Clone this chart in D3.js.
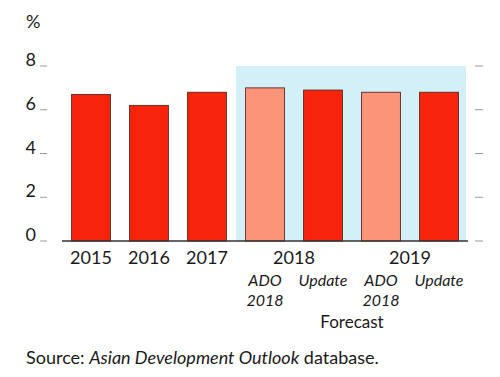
<!DOCTYPE html>
<html>
<head>
<meta charset="utf-8">
<script src="https://cdn.jsdelivr.net/npm/d3@7"></script>
<style>
  body { margin: 0; background: #fff; }
  text { font-family: Lato, "Open Sans", sans-serif; fill: #1a1a1a; }
</style>
</head>
<body>
<div id="chart"></div>
<script>
// Data
const categories = ['2015', '2016', '2017', '2018a', '2018b', '2019a', '2019b'];
const values = [6.7, 6.2, 6.8, 7.0, 6.9, 6.8, 6.8];
const kinds = ['actual', 'actual', 'actual', 'ado', 'update', 'ado', 'update'];
const yearLabels = [['2015', ['2015']], ['2016', ['2016']], ['2017', ['2017']],
  ['2018', ['2018a', '2018b']], ['2019', ['2019a', '2019b']]];
const subLabels = [['2018a', ['ADO', '2018']], ['2018b', ['Update']],
  ['2019a', ['ADO', '2018']], ['2019b', ['Update']]];
const yTicks = [0, 2, 4, 6, 8];

// Dimensions
const W = 500, H = 377;
const margin = { left: 62, right: 32, top: 66, bottom: 136 };
const width = W - margin.left - margin.right;
const height = H - margin.top - margin.bottom;

// Scales
const x = d3.scaleBand()
  .domain(categories)
  .range([0, width])
  .paddingInner(0.33)
  .paddingOuter(0.165);
const y = d3.scaleLinear()
  .domain([0, 8])
  .range([height, 0]);
const color = { actual: '#f8230b', ado: '#fc9479', update: '#f8230b' };

// SVG
const svg = d3.select('#chart')
  .append('svg')
  .attr('width', W)
  .attr('height', H);
const g = svg.append('g')
  .attr('transform', `translate(${margin.left},${margin.top})`);

// Forecast shading
const shadeX = x('2018a') - x.step() * x.paddingInner() / 2;
g.append('rect')
  .attr('x', shadeX)
  .attr('y', y(8))
  .attr('width', width - 2 - shadeX)
  .attr('height', y(0) - y(8))
  .attr('fill', '#d3f0f9');

// Bars
g.selectAll('.bar')
  .data(categories)
  .enter()
  .append('rect')
  .attr('class', 'bar')
  .attr('x', d => x(d))
  .attr('y', (d, i) => y(values[i]))
  .attr('width', x.bandwidth())
  .attr('height', (d, i) => y(0) - y(values[i]))
  .attr('fill', (d, i) => color[kinds[i]])
  .attr('stroke', '#5a2a22')
  .attr('stroke-width', 0.9);

// Baseline
g.append('line')
  .attr('x1', 0).attr('x2', width)
  .attr('y1', y(0)).attr('y2', y(0))
  .attr('stroke', '#333')
  .attr('stroke-width', 1.5);

// Left axis: labels and short ticks
const left = g.append('g').attr('transform', 'translate(-26,0)');
left.selectAll('text')
  .data(yTicks)
  .enter()
  .append('text')
  .attr('x', 0)
  .attr('y', d => y(d))
  .attr('text-anchor', 'end')
  .style('font-size', '18px')
  .text(d => d);
left.selectAll('line')
  .data(yTicks)
  .enter()
  .append('line')
  .attr('x1', 4).attr('x2', 11)
  .attr('y1', d => y(d)).attr('y2', d => y(d))
  .attr('stroke', '#999')
  .attr('stroke-width', 1);

// Right ticks
g.selectAll('.rtick')
  .data(yTicks)
  .enter()
  .append('line')
  .attr('class', 'rtick')
  .attr('x1', width + 7).attr('x2', width + 15)
  .attr('y1', d => y(d)).attr('y2', d => y(d))
  .attr('stroke', '#999')
  .attr('stroke-width', 1);

// Unit label
svg.append('text')
  .attr('x', 26)
  .attr('y', 28)
  .style('font-size', '18px')
  .text('%');

// Year labels
const center = keys => d3.mean(keys, k => x(k) + x.bandwidth() / 2);
g.selectAll('.year')
  .data(yearLabels)
  .enter()
  .append('text')
  .attr('class', 'year')
  .attr('x', d => center(d[1]))
  .attr('y', height + 23)
  .attr('text-anchor', 'middle')
  .style('font-size', '18px')
  .text(d => d[0]);

// Sub labels
const sub = g.selectAll('.sub')
  .data(subLabels)
  .enter()
  .append('text')
  .attr('class', 'sub')
  .attr('text-anchor', 'middle')
  .style('font-size', '16px')
  .style('font-style', 'italic');
sub.selectAll('tspan')
  .data(d => d[1].map(t => [d[0], t]))
  .enter()
  .append('tspan')
  .attr('x', d => x(d[0]) + x.bandwidth() / 2)
  .attr('y', (d, i) => height + 45 + i * 20)
  .text(d => d[1]);

g.append('text')
  .attr('x', center(['2018b', '2019a']))
  .attr('y', height + 87)
  .attr('text-anchor', 'middle')
  .style('font-size', '17px')
  .text('Forecast');

// Source
const src = svg.append('text')
  .attr('x', 26)
  .attr('y', 364)
  .style('font-size', '18px');
src.append('tspan').text('Source: ');
src.append('tspan').style('font-style', 'italic').text('Asian Development Outlook');
src.append('tspan').text(' database.');
</script>
</body>
</html>
